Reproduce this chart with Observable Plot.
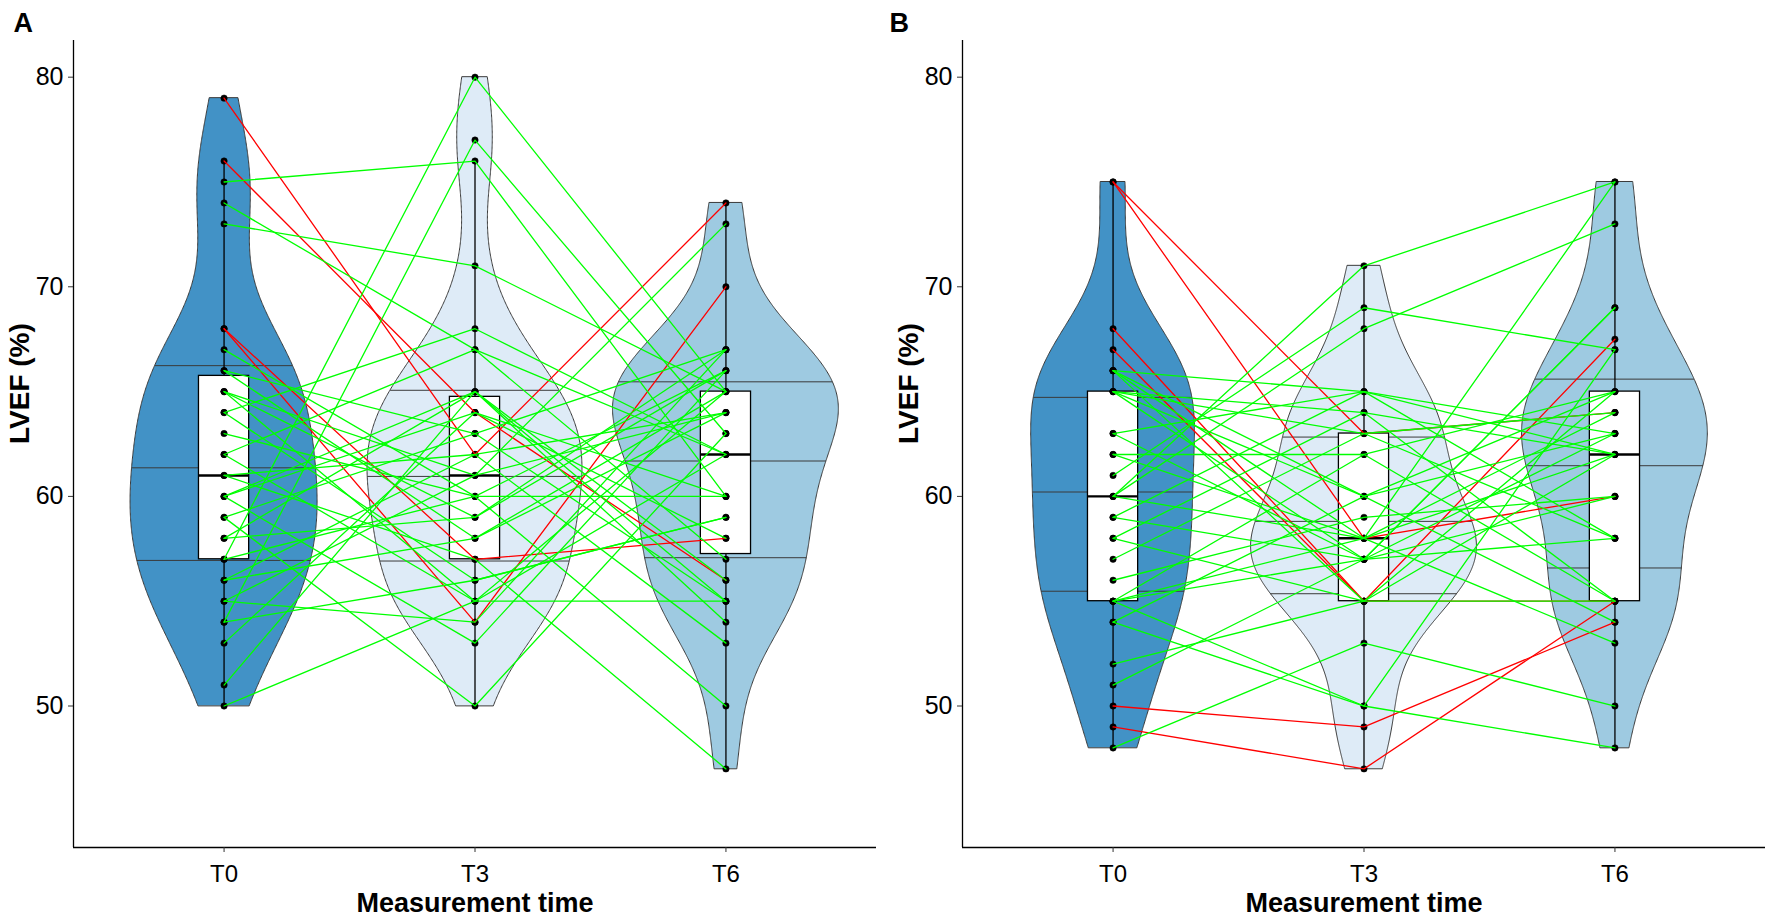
<!DOCTYPE html>
<html><head><meta charset="utf-8">
<script src="https://cdn.jsdelivr.net/npm/d3@7"></script>
<script src="https://cdn.jsdelivr.net/npm/@observablehq/plot@0.6"></script>
<style>
html,body{margin:0;padding:0;background:#fff;width:1772px;height:915px;overflow:hidden;}
#wrap{position:relative;width:1772px;height:915px;}
#pa,#pb{position:absolute;top:0;}
#pa{left:0}#pb{left:889px}
</style></head><body><div id="wrap"><div id="pa"></div><div id="pb"></div></div>
<script>
// ---- categories / ticks ----
const times = ["T0", "T3", "T6"];
const timePos = [1, 2, 3];
const yTicks = [50, 60, 70, 80];
const statusNames = ["stable", "decline"];

// ---- Panel A : one entry per patient (LVEF %) ----
const A_T0 = [79,76,68,68,75,74,73,57,54,67,66,66,65,65,65,64,64,63,62,62,61,61,60,60,60,59,59,58,58,57,56,56,55,55,54,53,51,50];
const A_T3 = [62,64,54,57,76,67,71,80,77,60,63,58,61,55,59,68,56,60,67,55,57,62,65,53,64,63,50,65,59,60,62,58,61,54,56,64,65,55];
const A_T6 = [74,56,70,58,60,62,65,65,63,66,55,64,73,62,67,62,59,50,57,65,47,64,55,66,60,67,63,54,66,60,53,65,64,67,59,58,56,55];
const A_status = ["decline","decline","decline","decline","stable","stable","stable","stable","stable","stable","stable","stable","stable","stable","stable","stable","stable","stable","stable","stable","stable","stable","stable","stable","stable","stable","stable","stable","stable","stable","stable","stable","stable","stable","stable","stable","stable","stable"];

// ---- Panel B ----
const B_T0 = [75,75,68,67,50,49,60,61,60,48,51,52,54,54,55,55,55,55,56,57,58,58,59,59,60,66,62,62,63,63,65,65,65,65,66,66,66];
const B_T3 = [63,58,55,55,49,47,71,69,68,53,57,55,50,60,50,57,62,58,59,63,64,55,65,57,58,60,62,58,65,57,60,57,64,63,58,65,55];
const B_T6 = [64,60,67.5,55,54,55,75,67,73,50,69,62,48,65,67,69,55,62,60,58,62,65,58,63,64,54,65,75,62,58,63,60,55,64,53,63,55];
const B_status = ["decline","decline","decline","decline","decline","decline","stable","stable","stable","stable","stable","stable","stable","stable","stable","stable","stable","stable","stable","stable","stable","stable","stable","stable","stable","stable","stable","stable","stable","stable","stable","stable","stable","stable","stable","stable","stable"];

const violinFills = ["#4292C6", "#DEEBF7", "#9ECAE1"];

function panel(letter, series, status, width) {
  const groups = series.map((vals, i) => {
    const s = vals.slice().sort(d3.ascending);
    const n = s.length;
    const q1 = d3.quantileSorted(s, 0.25), med = d3.quantileSorted(s, 0.5), q3 = d3.quantileSorted(s, 0.75);
    const iqr = q3 - q1;
    const lo = d3.min(s.filter(v => v >= q1 - 1.5 * iqr));
    const hi = d3.max(s.filter(v => v <= q3 + 1.5 * iqr));
    const sd = d3.deviation(s);
    const bw = 0.9 * Math.min(sd, iqr / 1.34) * Math.pow(n, -0.2);
    const mn = s[0], mx = s[n - 1];
    const grid = d3.range(512).map(k => mn + (mx - mn) * k / 511);
    const dens = grid.map(y => d3.sum(s, v => Math.exp(-0.5 * ((y - v) / bw) ** 2)) / (n * bw * Math.sqrt(2 * Math.PI)));
    return {i, pos: timePos[i], time: times[i], q1, med, q3, lo, hi, grid, dens};
  });
  const maxD = d3.max(groups, g => d3.max(g.dens));
  const violins = groups.map(g => g.grid.map((y, k) => ({pos: g.pos, y, hw: 0.45 * g.dens[k] / maxD})));
  const qrows = groups.flatMap(g => {
    const cum = Array.from(d3.cumsum(g.dens));
    const tot = cum[cum.length - 1];
    const ecdf = cum.map(c => c / tot);
    return [0.25, 0.5, 0.75].map(p => {
      const k = Math.max(1, d3.bisectLeft(ecdf, p));
      const t = (p - ecdf[k - 1]) / (ecdf[k] - ecdf[k - 1]);
      const y = g.grid[k - 1] + t * (g.grid[k] - g.grid[k - 1]);
      const w = g.dens[k - 1] + t * (g.dens[k] - g.dens[k - 1]);
      return {pos: g.pos, y, hw: 0.45 * w / maxD};
    });
  });
  const rows = [];
  series[0].forEach((_, j) => {
    series.forEach((vals, i) => rows.push({id: j, pos: timePos[i], v: vals[j], status: status[j]}));
  });
  const bw = 0.1;
  const marks = [];
  violins.forEach((vr, i) => {
    marks.push(Plot.areaX(vr, {y: "y", x1: d => d.pos - d.hw, x2: d => d.pos + d.hw, fill: violinFills[i], stroke: "#3a3a3a", strokeWidth: 1}));
  });
  marks.push(
    Plot.ruleY(qrows, {y: "y", x1: d => d.pos - d.hw, x2: d => d.pos + d.hw, stroke: "#3a3a3a", strokeWidth: 1}),
    Plot.ruleX(groups, {x: "pos", y1: "lo", y2: "q1", stroke: "#000", strokeWidth: 1.3}),
    Plot.ruleX(groups, {x: "pos", y1: "q3", y2: "hi", stroke: "#000", strokeWidth: 1.3}),
    Plot.rect(groups, {x1: d => d.pos - bw, x2: d => d.pos + bw, y1: "q1", y2: "q3", fill: "#fff", stroke: "#000", strokeWidth: 1.3}),
    Plot.ruleY(groups, {y: "med", x1: d => d.pos - bw, x2: d => d.pos + bw, stroke: "#000", strokeWidth: 2.4}),
    Plot.dot(rows, {x: "pos", y: "v", r: 3.2, fill: "#000", stroke: "#000", strokeWidth: 0.5}),
    Plot.line(rows, {x: "pos", y: "v", z: "id", stroke: "status", strokeWidth: 1.3}),
    Plot.ruleX([0.4], {stroke: "#000", strokeWidth: 1.3}),
    Plot.ruleY([43.25], {stroke: "#000", strokeWidth: 1.3}),
    Plot.axisY({ticks: yTicks, tickSize: 5, tickFormat: () => "", label: null, stroke: "#333"}),
    Plot.axisX({ticks: timePos, tickSize: 5, tickFormat: () => "", label: null, stroke: "#333"}),
    Plot.text(yTicks, {y: d => d, frameAnchor: "left", dx: -10, textAnchor: "end", lineAnchor: "middle", text: d => String(d), fontSize: 25, fill: "#000"}),
    Plot.text(timePos, {x: d => d, frameAnchor: "bottom", dy: 27, lineAnchor: "middle", text: d => times[d - 1], fontSize: 24, fill: "#000"}),
    Plot.text(["LVEF (%)"], {frameAnchor: "left", dx: -53, rotate: -90, lineAnchor: "middle", fontWeight: "bold", fontSize: 28}),
    Plot.text(["Measurement time"], {frameAnchor: "bottom", dy: 56, lineAnchor: "middle", fontWeight: "bold", fontSize: 27}),
    Plot.text([letter], {frameAnchor: "top-left", textAnchor: "start", lineAnchor: "middle", dx: letter === "A" ? -60 : -73, dy: -17, fontWeight: "bold", fontSize: 27})
  );
  return Plot.plot({
    width, height: 915,
    marginLeft: 73, marginRight: width - 876, marginTop: 40, marginBottom: 68,
    style: {fontFamily: "'Liberation Sans', Arial, sans-serif", fontSize: "24px", color: "#000", background: "#fff", overflow: "visible"},
    x: {domain: [0.4, 3.6], axis: null},
    y: {domain: [43.25, 81.75], axis: null},
    color: {domain: statusNames, range: ["#00FF00", "#FF0000"]},
    marks
  });
}

document.getElementById("pa").appendChild(panel("A", [A_T0, A_T3, A_T6], A_status, 886));
document.getElementById("pb").appendChild(panel("B", [B_T0, B_T3, B_T6], B_status, 883));
</script>
</body></html>
